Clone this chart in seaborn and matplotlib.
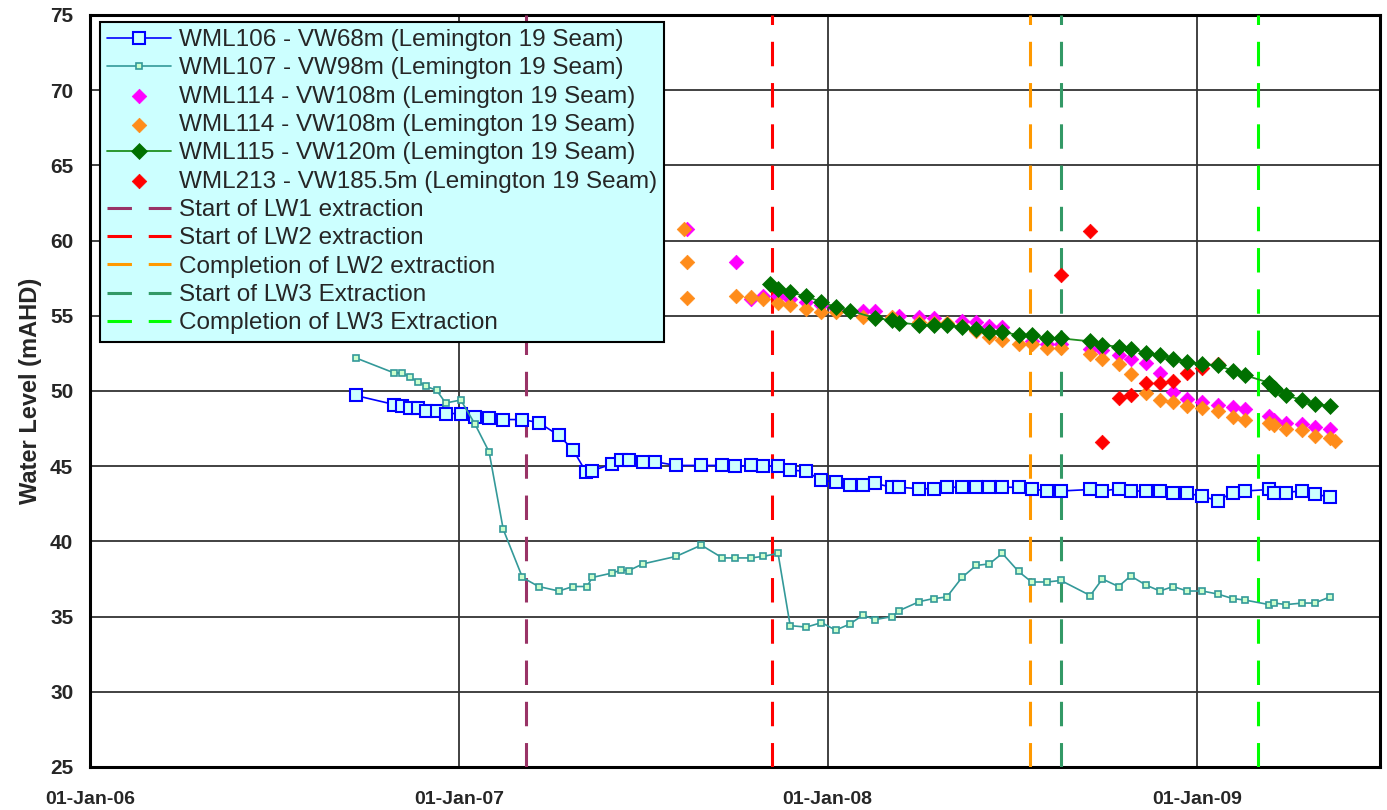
import pandas as pd
import matplotlib
matplotlib.use("Agg")
import matplotlib.pyplot as plt
import matplotlib.dates as mdates
import seaborn as sns

# -----------------------------
# Data (read off the hydrograph)
# -----------------------------
wml106_dates = [
    "2006-09-21", "2006-10-29", "2006-11-06", "2006-11-14", "2006-11-22", "2006-11-30",
    "2006-12-10", "2006-12-19", "2007-01-03", "2007-01-17", "2007-01-31", "2007-02-14",
    "2007-03-05", "2007-03-21", "2007-04-10", "2007-04-24", "2007-05-07", "2007-05-13",
    "2007-06-02", "2007-06-11", "2007-06-18", "2007-07-02", "2007-07-14", "2007-08-04",
    "2007-08-29", "2007-09-19", "2007-10-01", "2007-10-17", "2007-10-29", "2007-11-13",
    "2007-11-25", "2007-12-11", "2007-12-26", "2008-01-09", "2008-01-23", "2008-02-05",
    "2008-02-17", "2008-03-05", "2008-03-12", "2008-04-01", "2008-04-15", "2008-04-28",
    "2008-05-13", "2008-05-27", "2008-06-09", "2008-06-22", "2008-07-08", "2008-07-21",
    "2008-08-05", "2008-08-19", "2008-09-17", "2008-09-29", "2008-10-15", "2008-10-27",
    "2008-11-11", "2008-11-25", "2008-12-08", "2008-12-22", "2009-01-06", "2009-01-21",
    "2009-02-05", "2009-02-17", "2009-03-13", "2009-03-18", "2009-03-30", "2009-04-15",
    "2009-04-27", "2009-05-12",
]
wml106_level = [
    49.7, 49.1, 49.0, 48.9, 48.9, 48.7,
    48.7, 48.5, 48.5, 48.3, 48.2, 48.1,
    48.1, 47.9, 47.05, 46.1, 44.6, 44.7,
    45.15, 45.4, 45.4, 45.3, 45.3, 45.05,
    45.05, 45.05, 45.0, 45.05, 45.0, 45.0,
    44.75, 44.65, 44.05, 43.95, 43.75, 43.75,
    43.85, 43.6, 43.6, 43.5, 43.5, 43.6,
    43.6, 43.6, 43.6, 43.6, 43.6, 43.5,
    43.35, 43.35, 43.45, 43.35, 43.5, 43.35,
    43.35, 43.35, 43.2, 43.2, 43.0, 42.7,
    43.25, 43.35, 43.45, 43.25, 43.25, 43.37,
    43.15, 42.95,
]

wml107_dates = [
    "2006-09-21", "2006-10-29", "2006-11-06", "2006-11-14", "2006-11-22", "2006-11-30",
    "2006-12-10", "2006-12-19", "2007-01-03", "2007-01-17", "2007-01-31", "2007-02-14",
    "2007-03-05", "2007-03-21", "2007-04-10", "2007-04-24", "2007-05-08", "2007-05-13",
    "2007-06-02", "2007-06-11", "2007-06-18", "2007-07-02", "2007-08-04", "2007-08-29",
    "2007-09-19", "2007-10-01", "2007-10-17", "2007-10-29", "2007-11-13", "2007-11-25",
    "2007-12-11", "2007-12-26", "2008-01-09", "2008-01-23", "2008-02-05", "2008-02-17",
    "2008-03-05", "2008-03-12", "2008-04-01", "2008-04-15", "2008-04-28", "2008-05-13",
    "2008-05-27", "2008-06-09", "2008-06-22", "2008-07-08", "2008-07-21", "2008-08-05",
    "2008-08-19", "2008-09-17", "2008-09-29", "2008-10-15", "2008-10-27", "2008-11-11",
    "2008-11-25", "2008-12-08", "2008-12-22", "2009-01-06", "2009-01-21", "2009-02-05",
    "2009-02-17", "2009-03-13", "2009-03-18", "2009-03-30", "2009-04-15", "2009-04-27",
    "2009-05-12",
]
wml107_level = [
    52.2, 51.2, 51.2, 50.9, 50.6, 50.3,
    50.05, 49.2, 49.4, 47.8, 45.95, 40.8,
    37.6, 37.0, 36.7, 37.0, 37.0, 37.6,
    37.9, 38.1, 38.05, 38.5, 39.0, 39.75,
    38.9, 38.9, 38.9, 39.0, 39.2, 34.4,
    34.3, 34.6, 34.1, 34.5, 35.1, 34.8,
    35.0, 35.4, 36.0, 36.2, 36.3, 37.6,
    38.4, 38.5, 39.2, 38.0, 37.3, 37.3,
    37.4, 36.4, 37.5, 37.0, 37.7, 37.1,
    36.7, 37.0, 36.7, 36.7, 36.5, 36.2,
    36.1, 35.8, 35.9, 35.8, 35.9, 35.9,
    36.3,
]

wml114a_dates = [
    "2007-08-15", "2007-10-02", "2007-10-17", "2007-10-29", "2007-11-13", "2007-11-25",
    "2007-12-11", "2007-12-26", "2008-01-09", "2008-02-05", "2008-02-17", "2008-03-12",
    "2008-04-01", "2008-04-15", "2008-05-13", "2008-05-27", "2008-06-09", "2008-06-22",
    "2008-07-21", "2008-08-05", "2008-08-19", "2008-09-17", "2008-09-29", "2008-10-15",
    "2008-10-27", "2008-11-11", "2008-11-25", "2008-12-08", "2008-12-22", "2009-01-06",
    "2009-01-21", "2009-02-05", "2009-02-17", "2009-03-13", "2009-03-18", "2009-03-30",
    "2009-04-15", "2009-04-27", "2009-05-12",
]
wml114a_level = [
    60.8, 58.6, 56.1, 56.3, 56.3, 56.1,
    55.9, 55.7, 55.45, 55.3, 55.3, 55.0,
    54.95, 54.85, 54.65, 54.6, 54.35, 54.25,
    53.3, 53.1, 53.1, 52.8, 52.7, 52.4,
    52.15, 51.85, 51.2, 49.9, 49.5, 49.3,
    49.1, 48.95, 48.8, 48.35, 48.1, 47.9,
    47.8, 47.6, 47.45,
]

wml114b_dates = [
    "2007-08-12", "2007-08-15", "2007-08-15", "2007-10-02", "2007-10-17", "2007-10-29",
    "2007-11-13", "2007-11-25", "2007-12-11", "2007-12-26", "2008-01-09", "2008-02-05",
    "2008-03-05", "2008-04-01", "2008-04-15", "2008-04-28", "2008-05-13", "2008-05-27",
    "2008-06-09", "2008-06-22", "2008-07-08", "2008-07-21", "2008-08-05", "2008-08-19",
    "2008-09-17", "2008-09-29", "2008-10-15", "2008-10-27", "2008-11-11", "2008-11-25",
    "2008-12-08", "2008-12-22", "2009-01-06", "2009-01-21", "2009-02-05", "2009-02-17",
    "2009-03-13", "2009-03-18", "2009-03-30", "2009-04-15", "2009-04-27", "2009-05-12",
    "2009-05-17",
]
wml114b_level = [
    60.8, 58.6, 56.2, 56.3, 56.25, 56.1,
    55.85, 55.7, 55.45, 55.25, 55.25, 54.9,
    54.9, 54.6, 54.55, 54.55, 54.3, 54.0,
    53.6, 53.4, 53.1, 53.1, 52.85, 52.85,
    52.45, 52.1, 51.8, 51.1, 49.85, 49.4,
    49.25, 49.0, 48.9, 48.7, 48.3, 48.05,
    47.85, 47.75, 47.5, 47.4, 47.0, 46.85,
    46.65,
]

wml115_dates = [
    "2007-11-05", "2007-11-13", "2007-11-25", "2007-12-11", "2007-12-26", "2008-01-09",
    "2008-01-23", "2008-02-17", "2008-03-05", "2008-03-12", "2008-04-01", "2008-04-15",
    "2008-04-28", "2008-05-13", "2008-05-27", "2008-06-09", "2008-06-22", "2008-07-08",
    "2008-07-21", "2008-08-05", "2008-08-19", "2008-09-17", "2008-09-29", "2008-10-15",
    "2008-10-27", "2008-11-11", "2008-11-25", "2008-12-08", "2008-12-22", "2009-01-06",
    "2009-01-21", "2009-02-05", "2009-02-17", "2009-03-13", "2009-03-18", "2009-03-19",
    "2009-03-30", "2009-04-15", "2009-04-27", "2009-05-12",
]
wml115_level = [
    57.1, 56.8, 56.55, 56.3, 55.9, 55.6,
    55.35, 54.85, 54.7, 54.55, 54.4, 54.4,
    54.4, 54.25, 54.1, 53.95, 53.95, 53.7,
    53.7, 53.5, 53.5, 53.3, 53.05, 52.95,
    52.8, 52.55, 52.4, 52.15, 51.95, 51.8,
    51.7, 51.35, 51.05, 50.55, 50.2, 50.1,
    49.7, 49.4, 49.15, 49.0,
]

wml213_dates = [
    "2008-08-19", "2008-09-17", "2008-09-29", "2008-10-15", "2008-10-27", "2008-11-11",
    "2008-11-25", "2008-12-08", "2008-12-22", "2009-01-06", "2009-01-21",
]
wml213_level = [57.7, 60.65, 46.6, 49.55, 49.7, 50.55, 50.55, 50.65, 51.2, 51.5, 51.8]

event_labels = [
    "Start of LW1 extraction",
    "Start of LW2 extraction",
    "Completion of LW2 extraction",
    "Start of LW3 Extraction",
    "Completion of LW3 Extraction",
]
event_dates = ["2007-03-09", "2007-11-07", "2008-07-19", "2008-08-19", "2009-03-02"]
event_colors = ["#993366", "#FF0000", "#FF9900", "#339966", "#00FF00"]

series_labels = [
    "WML106 - VW68m (Lemington 19 Seam)",
    "WML107 - VW98m (Lemington 19 Seam)",
    "WML114 - VW108m (Lemington 19 Seam)",
    "WML114 - VW108m (Lemington 19 Seam)",
    "WML115 - VW120m (Lemington 19 Seam)",
    "WML213 - VW185.5m (Lemington 19 Seam)",
]

# -----------------------------
# Style
# -----------------------------
sns.set_style("white")
plt.rcParams["font.family"] = ["Liberation Sans", "DejaVu Sans"]

fig = plt.figure(figsize=(13.87, 8.10), dpi=100)
ax = fig.add_axes([0.0649, 0.0531, 0.9302, 0.9284])

# -----------------------------
# Series
# -----------------------------
sns.lineplot(x=pd.to_datetime(wml106_dates), y=wml106_level, ax=ax,
             color="#0000FF", linewidth=1.2, marker="s", markersize=8,
             markerfacecolor="#CCFFFF", markeredgecolor="#0000FF",
             markeredgewidth=1.5, estimator=None, sort=False,
             label=series_labels[0], zorder=5)

sns.lineplot(x=pd.to_datetime(wml107_dates), y=wml107_level, ax=ax,
             color="#339999", linewidth=1.2, marker="s", markersize=5,
             markerfacecolor="#CCFFCC", markeredgecolor="#339999",
             markeredgewidth=1.2, estimator=None, sort=False,
             label=series_labels[1], zorder=5)

sns.scatterplot(x=pd.to_datetime(wml114a_dates), y=wml114a_level, ax=ax,
                marker="D", s=55, color="#FF00FF", edgecolor="#FF00FF",
                linewidth=0.5, label=series_labels[2], zorder=6)

sns.scatterplot(x=pd.to_datetime(wml114b_dates), y=wml114b_level, ax=ax,
                marker="D", s=55, color="#FF8C1A", edgecolor="#FF8C1A",
                linewidth=0.5, label=series_labels[3], zorder=6)

sns.lineplot(x=pd.to_datetime(wml115_dates), y=wml115_level, ax=ax,
             color="#1F8F1F", linewidth=1.3, marker="D", markersize=8,
             markerfacecolor="#007000", markeredgecolor="#007000",
             markeredgewidth=0.5, estimator=None, sort=False,
             label=series_labels[4], zorder=7)

sns.scatterplot(x=pd.to_datetime(wml213_dates), y=wml213_level, ax=ax,
                marker="D", s=55, color="#FF0000", edgecolor="#FF0000",
                linewidth=0.5, label=series_labels[5], zorder=6)

# -----------------------------
# Extraction events
# -----------------------------
for lab, d, c in zip(event_labels, event_dates, event_colors):
    ax.axvline(pd.Timestamp(d), color=c, linewidth=2.2, dashes=(8, 5.5),
               label=lab, zorder=4)

# -----------------------------
# Axes
# -----------------------------
ax.set_xlim(pd.Timestamp("2006-01-01"), pd.Timestamp("2009-07-01"))
ax.set_ylim(25, 75)
ax.set_yticks(range(25, 80, 5))

ax.xaxis.set_major_locator(mdates.YearLocator())
ax.xaxis.set_minor_locator(mdates.MonthLocator())
ax.xaxis.set_major_formatter(mdates.DateFormatter("%d-%b-%y"))

ax.grid(True, which="major", color="#333333", linewidth=1.3)
ax.set_axisbelow(True)

for s in ax.spines.values():
    s.set_linewidth(2.2)
    s.set_color("black")

ax.tick_params(axis="both", which="major", direction="out", length=7, width=1.5,
               labelsize=15, pad=5)
ax.tick_params(axis="x", which="minor", direction="out", length=6, width=1.3)
ax.tick_params(axis="x", which="major", labelsize=14, pad=10)
for t in ax.get_xticklabels() + ax.get_yticklabels():
    t.set_fontweight("bold")

ax.set_xlabel("")
ax.set_ylabel("Water Level (mAHD)", fontsize=17, fontweight="bold", labelpad=6)

# -----------------------------
# Legend
# -----------------------------
handles, labels = ax.get_legend_handles_labels()
leg = ax.legend(handles, labels, loc="upper left", bbox_to_anchor=(0.0078, 0.991),
                borderaxespad=0, fontsize=17.5, frameon=True, fancybox=False,
                facecolor="#CCFFFF", edgecolor="black", framealpha=1,
                handlelength=2.6, handletextpad=0.35, labelspacing=0.26,
                borderpad=0.3)
leg.get_frame().set_linewidth(1.5)
leg.set_zorder(10)

plt.savefig("out.png", dpi=100)
